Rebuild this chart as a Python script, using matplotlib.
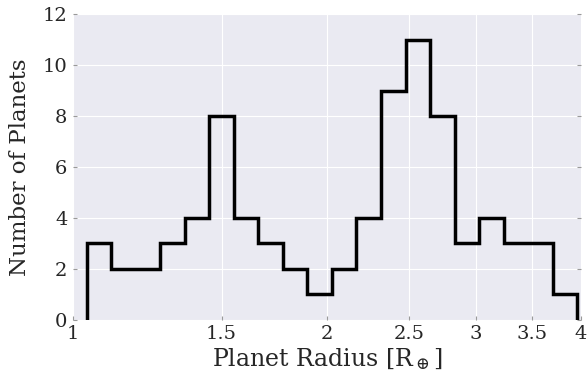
import numpy as np
import matplotlib
matplotlib.use("Agg")
import matplotlib.pyplot as plt
import seaborn as sns

# histogram of planet radii (log-spaced bins)
bin_lo = 1.038
bin_hi = 3.96
counts = [3, 2, 2, 3, 4, 8, 4, 3, 2, 1, 2, 4, 9, 11, 8, 3, 4, 3, 3, 1]
xticks = [1, 1.5, 2, 2.5, 3, 3.5, 4]
xticklabels = ["1", "1.5", "2", "2.5", "3", "3.5", "4"]
yticks = [0, 2, 4, 6, 8, 10, 12]

edges = np.logspace(np.log10(bin_lo), np.log10(bin_hi), len(counts) + 1)
centers = np.sqrt(edges[:-1] * edges[1:])

sns.set_style("darkgrid")
plt.rcParams["font.family"] = ["DejaVu Serif"]
plt.rcParams["mathtext.fontset"] = "dejavuserif"

fig = plt.figure(figsize=(5.88, 3.83), dpi=100)
ax = fig.add_axes([0.124, 0.165, 0.864, 0.798])

ax.hist(centers, bins=edges, weights=counts, histtype="step",
        color="black", linewidth=2.5)

ax.set_xscale("log")
ax.set_xlim(1, 4)
ax.set_ylim(0, 12)
ax.set_xticks(xticks)
ax.set_xticklabels(xticklabels)
ax.xaxis.set_minor_locator(matplotlib.ticker.NullLocator())
ax.set_yticks(yticks)

ax.tick_params(axis="both", which="major", labelsize=14, length=3,
               direction="in", color="#999999", pad=4,
               left=True, right=True, bottom=True, top=False)
for s in ax.spines.values():
    s.set_visible(False)

ax.set_xlabel(r"Planet Radius [R$_\oplus$]", fontsize=17, labelpad=2)
ax.set_ylabel("Number of Planets", fontsize=16.5, labelpad=8)

fig.savefig("out.png", dpi=100)
